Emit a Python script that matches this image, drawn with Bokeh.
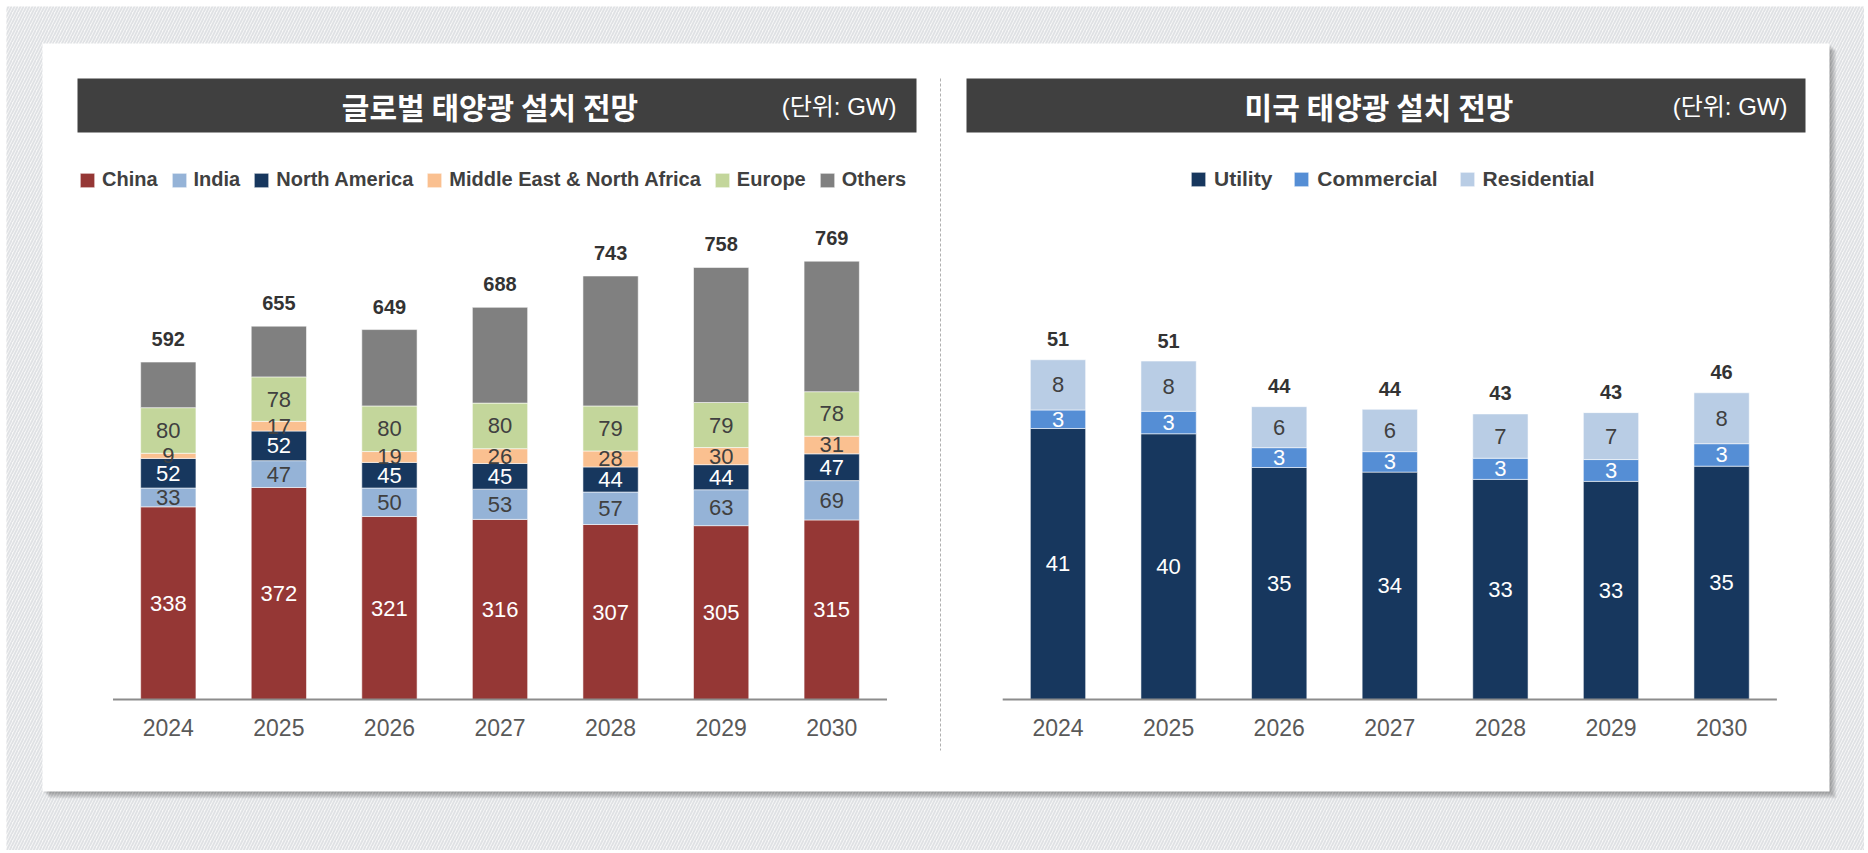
from bokeh.plotting import figure
from bokeh.models import ColumnDataSource, Range1d, Legend, LegendItem
from bokeh.core.properties import value
from bokeh.embed import file_html
from bokeh.resources import INLINE

# ---------------- data ----------------
years = ["2024", "2025", "2026", "2027", "2028", "2029", "2030"]

# 글로벌 태양광 설치 전망 (GW)
china = [338, 372, 321, 316, 307, 305, 315]
india = [33, 47, 50, 53, 57, 63, 69]
north_america = [52, 52, 45, 45, 44, 44, 47]
mena = [9, 17, 19, 26, 28, 30, 31]
europe = [80, 78, 80, 80, 79, 79, 78]
global_total = [592, 655, 649, 688, 743, 758, 769]

# 미국 태양광 설치 전망 (GW)
us_utility = [41.0, 40.2, 35.1, 34.4, 33.3, 33.0, 35.3]
us_commercial = [2.8, 3.4, 3.0, 3.1, 3.2, 3.3, 3.4]
us_residential = [7.6, 7.6, 6.2, 6.4, 6.7, 7.1, 7.7]
us_total = [51, 51, 44, 44, 43, 43, 46]

others = [t - (a + b + c + d + e) for t, a, b, c, d, e in
          zip(global_total, china, india, north_america, mena, europe)]

g_names = ["China", "India", "North America", "Middle East & North Africa", "Europe", "Others"]
g_colors = ["#953735", "#95B3D7", "#17375E", "#FAC090", "#C3D69B", "#808080"]
g_text_colors = ["white", "#404040", "white", "#404040", "#404040", None]
g_series = [china, india, north_america, mena, europe, others]

u_names = ["Utility", "Commercial", "Residential"]
u_colors = ["#17375E", "#558ED5", "#B9CDE5"]
u_text_colors = ["white", "white", "#404040"]
u_series = [us_utility, us_commercial, us_residential]

# ---------------- layout (page pixels) ----------------
OX, OY = 0, 0
W, H = 1864, 850
BASE = 699
L_X0, L_DX, L_K = 167.8, 110.57, 0.570
R_X0, R_DX, R_K = 1057.5, 110.6, 6.61

FONT = value("Liberation Sans")
KFONT = value("Noto Sans CJK KR")

p = figure(width=W, height=H, x_range=Range1d(OX, OX + W), y_range=Range1d(OY + H, OY),
           output_backend="svg", toolbar_location=None, tools="",
           x_axis_type=None, y_axis_type=None, min_border=0,
           outline_line_color=None, background_fill_color="white",
           border_fill_color="white")
p.min_border_left = p.min_border_right = p.min_border_top = p.min_border_bottom = 0

p.extra_x_ranges = {
    "lx": Range1d((OX - L_X0) / L_DX, (OX + W - L_X0) / L_DX),
    "rx": Range1d((OX - R_X0) / R_DX, (OX + W - R_X0) / R_DX),
}
p.extra_y_ranges = {
    "ly": Range1d((BASE - (OY + H)) / L_K, (BASE - OY) / L_K),
    "ry": Range1d((BASE - (OY + H)) / R_K, (BASE - OY) / R_K),
}

# background hatch
p.quad(left=[6], right=[OX + W], top=[6], bottom=[OY + H], fill_color="#f7f7f7",
       line_color=None, hatch_pattern="/", hatch_color="#dfe1e4", hatch_weight=1.8,
       hatch_scale=6)
# card shadow
for d in range(1, 8):
    p.quad(left=[42 + d], right=[1829 + d], top=[43 + d], bottom=[791 + d],
           fill_color="black", fill_alpha=0.05, line_color=None)
# card
p.quad(left=[42], right=[1829], top=[43], bottom=[791], fill_color="white", line_color=None)

# title bars
p.quad(left=[77, 966], right=[916, 1805], top=[78, 78], bottom=[132, 132],
       fill_color="#404040", line_color=None)
p.text(x=[489.5, 1378.5], y=[105, 105], text=["글로벌 태양광 설치 전망", "미국 태양광 설치 전망"],
       text_font=KFONT, text_font_style="bold", text_font_size="30px", text_color="white",
       text_align="center", text_baseline="middle")
p.text(x=[896, 1787], y=[106, 106], text=["(단위: GW)", "(단위: GW)"],
       text_font=value("Liberation Sans, Noto Sans CJK KR"), text_font_size="24px",
       text_color="white", text_align="right", text_baseline="middle")

# separator
p.line(x=[940, 940], y=[78, 750], line_color="#b0b0b0", line_width=1, line_dash="3 2")


def draw_chart(series, names, colors, text_colors, totals, xr, yr, total_off, legend_x, legend_font,
               legend_spacing, legend_standoff):
    n = len(years)
    data = {"x": list(range(n))}
    for nm, s in zip(names, series):
        data[nm] = s
    src = ColumnDataSource(data)
    rs = p.vbar_stack(names, x="x", width=0.5, color=colors, source=src,
                      x_range_name=xr, y_range_name=yr,
                      line_color="white", line_alpha=0.55, line_width=1)
    # baseline
    p.segment(x0=[-0.5], x1=[n - 0.5], y0=[0], y1=[0], x_range_name=xr, y_range_name=yr,
              line_color="#8c8c8c", line_width=2)
    # segment labels
    xs, ys, ts, cs = [], [], [], []
    bottoms = [0.0] * n
    for s, tc in zip(series, text_colors):
        for i, v in enumerate(s):
            if tc is not None:
                xs.append(i)
                ys.append(bottoms[i] + v / 2)
                ts.append(f"{v:.0f}")
                cs.append(tc)
            bottoms[i] += v
    p.text(x="x", y="y", text="t", text_color="c",
           source=ColumnDataSource(dict(x=xs, y=ys, t=ts, c=cs)),
           x_range_name=xr, y_range_name=yr, text_font=FONT, text_font_size="22px",
           text_align="center", text_baseline="middle")
    # totals
    p.text(x=list(range(n)), y=bottoms, text=[str(t) for t in totals],
           x_range_name=xr, y_range_name=yr, text_font=FONT, text_font_size="20px",
           text_font_style="bold", text_color="#333333", text_align="center",
           text_baseline="middle", y_offset=total_off)
    # year labels
    p.text(x=list(range(n)), y=[0] * n, text=years, x_range_name=xr, y_range_name=yr,
           text_font=FONT, text_font_size="23px", text_color="#595959",
           text_align="center", text_baseline="middle", y_offset=28)
    # legend
    leg = Legend(items=[LegendItem(label=nm, renderers=[r]) for nm, r in zip(names, rs)],
                 location=(legend_x - OX, OY + H - 191), orientation="horizontal",
                 padding=0, margin=0, spacing=legend_spacing, label_standoff=legend_standoff,
                 glyph_width=18, glyph_height=18, label_height=18,
                 label_text_font="Liberation Sans", label_text_font_size=legend_font,
                 label_text_font_style="bold", label_text_color="#404040",
                 border_line_color=None, background_fill_alpha=0)
    p.add_layout(leg)


draw_chart(g_series, g_names, g_colors, g_text_colors, global_total, "lx", "ly", -23,
           78, "20px", 12, 6)
draw_chart(u_series, u_names, u_colors, u_text_colors, us_total, "rx", "ry", -20.5,
           1189, "21px", 20, 7)

open("out.html", "w").write(file_html(p, INLINE))
